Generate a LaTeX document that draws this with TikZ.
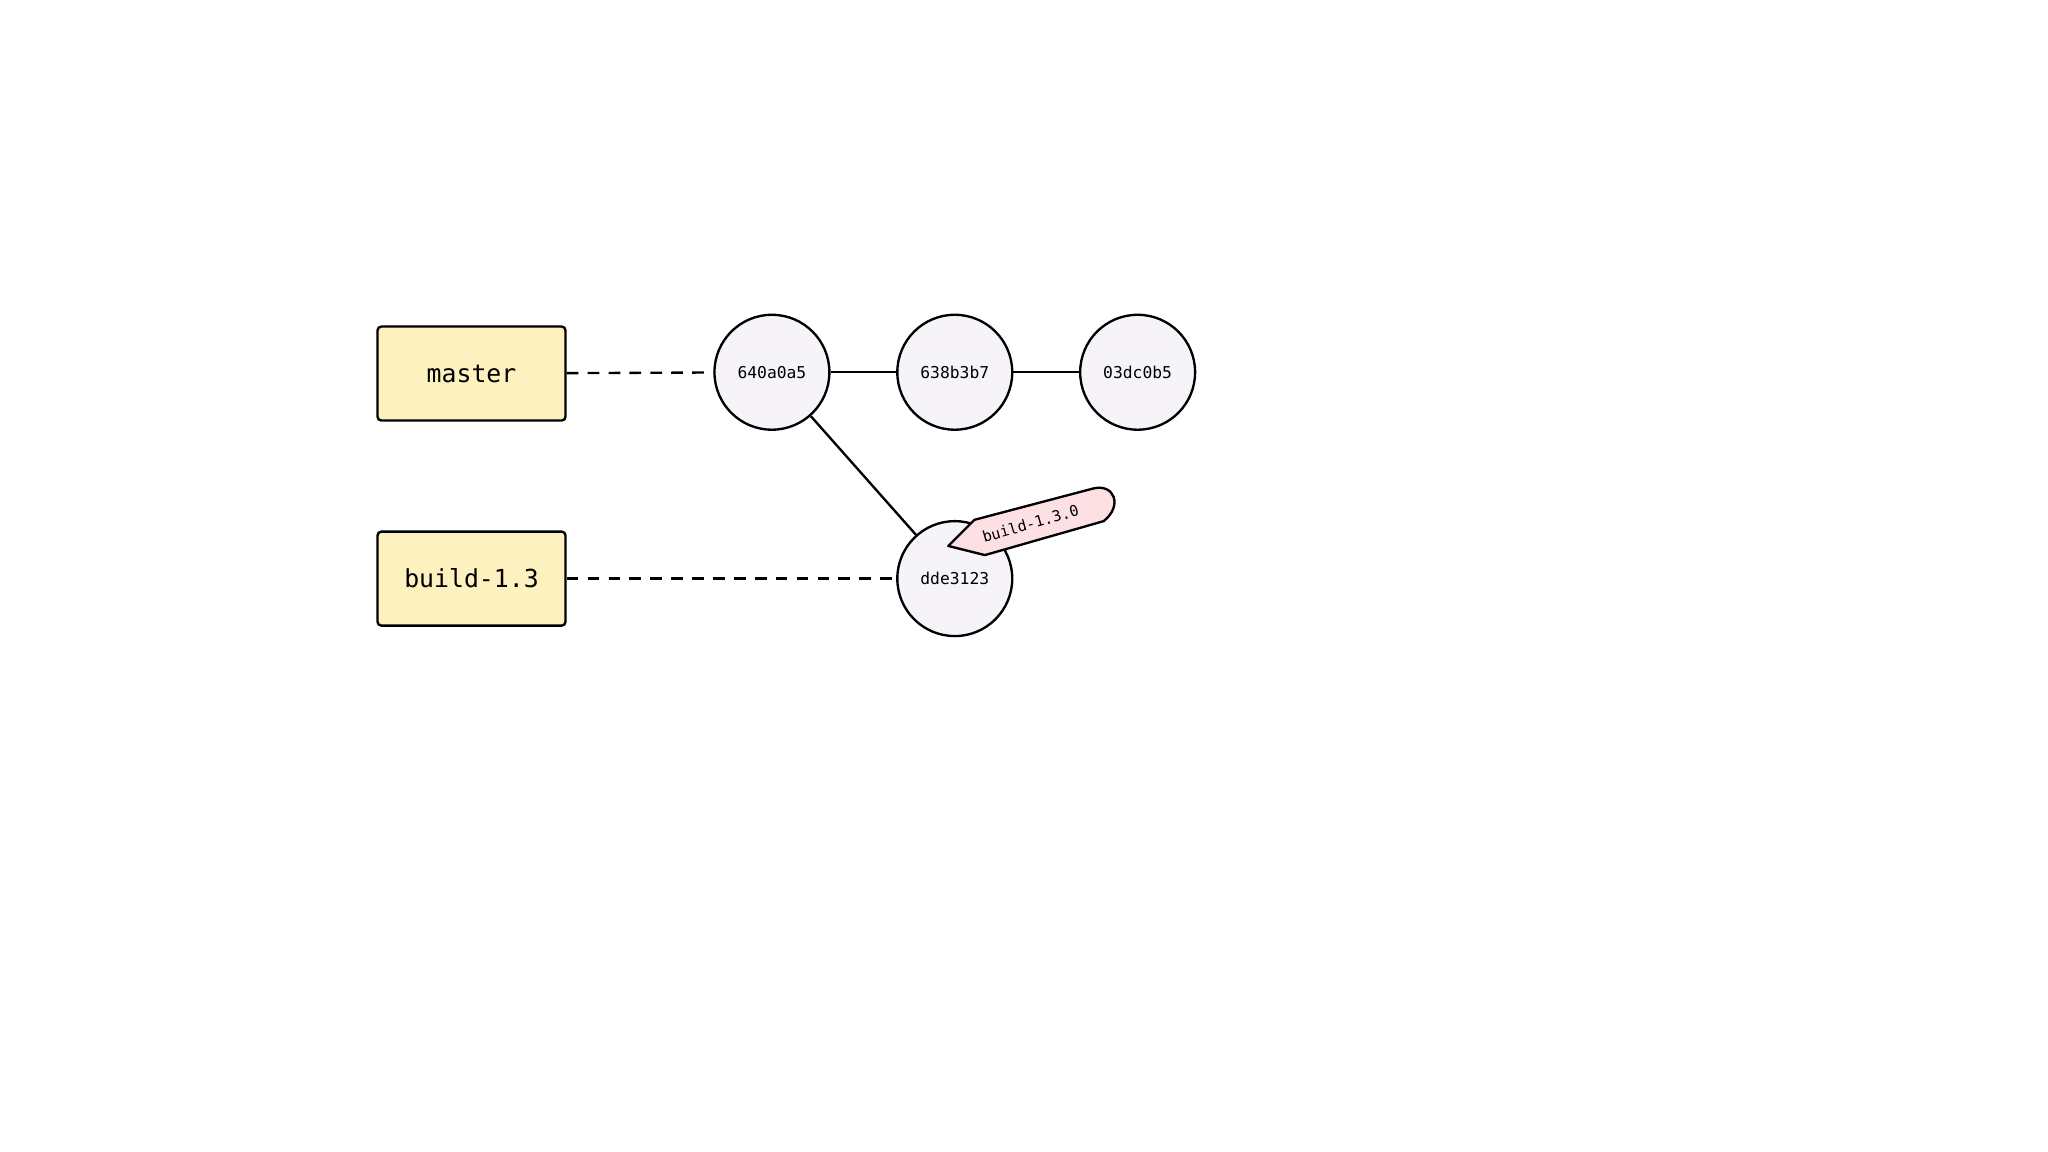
\documentclass[tikz,border=0pt]{standalone}
\usepackage{fontspec}
\newfontfamily\mono{DejaVu Sans Mono}
\begin{document}
\begin{tikzpicture}[x=1pt,y=-1pt,
  branch/.style={draw=black,line width=1.8pt,fill=yellow!25!orange!8!white,fill={rgb,255:red,253;green,241;blue,192},rounded corners=3pt,minimum width=144pt,minimum height=72pt,font=\mono\fontsize{19}{22}\selectfont},
  commit/.style={circle,draw=black,line width=1.8pt,fill={rgb,255:red,246;green,244;blue,248},minimum size=88pt,inner sep=0pt,font=\mono\fontsize{12.5}{15}\selectfont},
  edge/.style={line width=1.8pt},
  ref/.style={line width=1.8pt,dash pattern=on 9pt off 7pt}]
\useasboundingbox (0,0) rectangle (1568,882);
\node[branch] (master) at (361,286) {master};
\node[branch] (build) at (361,443) {build-1.3};
\node[commit] (c1) at (591,285) {640a0a5};
\node[commit] (c2) at (731,285) {638b3b7};
\node[commit] (c3) at (871,285) {03dc0b5};
\node[commit] (c4) at (731,443) {dde3123};
\draw[ref] (master) -- (c1);
\draw[ref] (build) -- (c4);
\draw[edge] (c1) -- (c2);
\draw[edge] (c2) -- (c3);
\draw[edge] (c1) -- (c4);
\draw[line width=1.8pt,line join=round,fill={rgb,255:red,252;green,224;blue,228}]
  (726,418) -- (746,398) -- (837,374) .. controls (853,370) and (860,387) .. (845,399) -- (754,425) -- cycle;
\node[rotate=16,font=\mono\fontsize{11.5}{14}\selectfont,inner sep=0pt] (tag) at (789,401) {build-1.3.0};
\end{tikzpicture}
\end{document}
